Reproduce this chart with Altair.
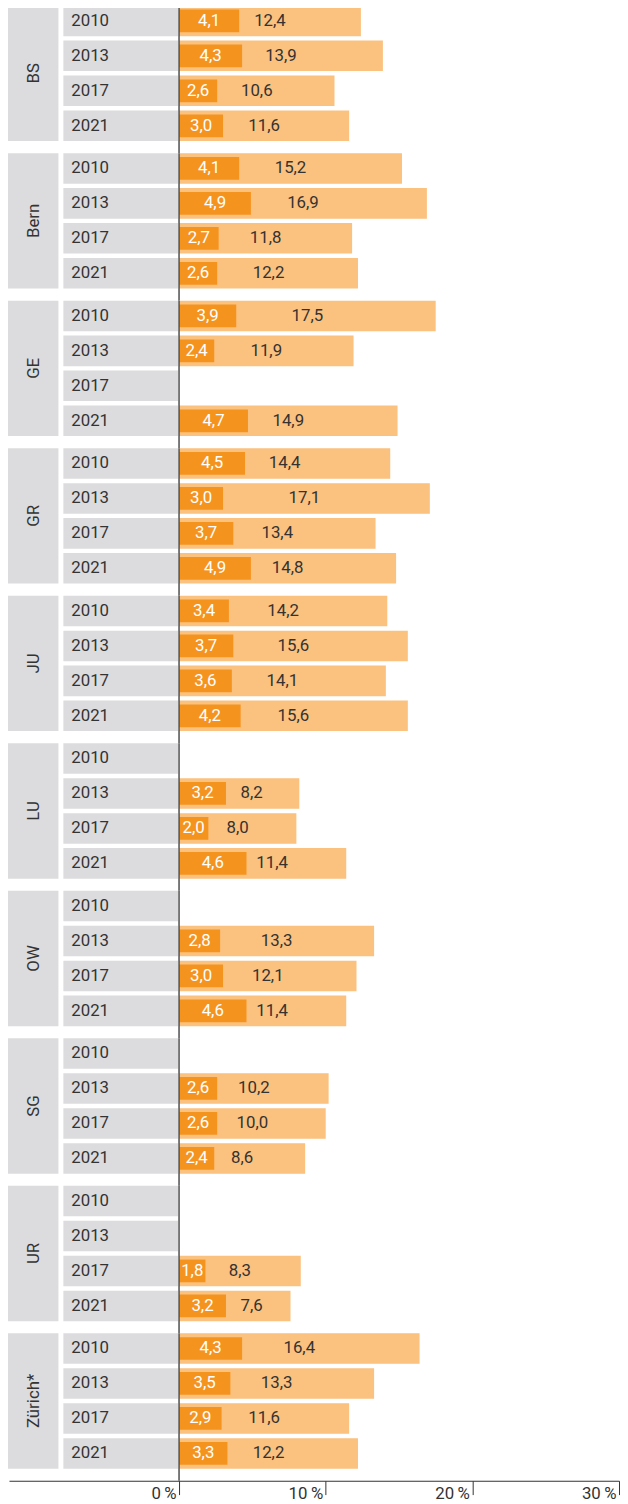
import altair as alt
import pandas as pd

regions = ["BS", "Bern", "GE", "GR", "JU", "LU", "OW", "SG", "UR", "Zürich*"]
years = ["2010", "2013", "2017", "2021"]

dark_values = [
    [4.1, 4.3, 2.6, 3.0],
    [4.1, 4.9, 2.7, 2.6],
    [3.9, 2.4, None, 4.7],
    [4.5, 3.0, 3.7, 4.9],
    [3.4, 3.7, 3.6, 4.2],
    [None, 3.2, 2.0, 4.6],
    [None, 2.8, 3.0, 4.6],
    [None, 2.6, 2.6, 2.4],
    [None, None, 1.8, 3.2],
    [4.3, 3.5, 2.9, 3.3],
]
total_values = [
    [12.4, 13.9, 10.6, 11.6],
    [15.2, 16.9, 11.8, 12.2],
    [17.5, 11.9, None, 14.9],
    [14.4, 17.1, 13.4, 14.8],
    [14.2, 15.6, 14.1, 15.6],
    [None, 8.2, 8.0, 11.4],
    [None, 13.3, 12.1, 11.4],
    [None, 10.2, 10.0, 8.6],
    [None, None, 8.3, 7.6],
    [16.4, 13.3, 11.6, 12.2],
]
tick_values = [0, 10, 20, 30]


def fmt(v):
    return "" if v is None else f"{v:.1f}".replace(".", ",")


rows = []
for reg, dv, tv in zip(regions, dark_values, total_values):
    for yr, d, t in zip(years, dv, tv):
        rows.append(dict(region=reg, year=yr, dark=d, light=t,
                         dark_lbl=fmt(d), light_lbl=fmt(t)))
df = pd.DataFrame(rows)

FONT = "Roboto"
FS = 17
TXT = "#333333"
GREY = "#dcdcde"
LIGHT = "#fbc17e"
DARK = "#f5931f"

K = 445 / 30
XMIN = -172 / K
H = 137
SP = 12.2

xscale = alt.Scale(domain=[XMIN, 30], nice=False, zero=False)
xaxis = alt.Axis(values=tick_values, grid=False, domainColor="#333333", tickColor="#333333",
                 tickSize=14, offset=12, labelAlign="right", labelBaseline="top",
                 labelPadding=-9, labelOffset=-3, labelFont=FONT, labelFontSize=FS,
                 labelColor=TXT, labelExpr="datum.value + '\u2009%'", domainWidth=1.2)


def X(field):
    return alt.X(field, type="quantitative", scale=xscale, axis=xaxis, title=None)


yband = alt.Y("year:O", sort=years,
              scale=alt.Scale(paddingInner=0.127, paddingOuter=0), axis=None, title=None)

first = "datum.year == '2010'"

region_box = alt.Chart().transform_filter(first).mark_rect(color=GREY).encode(
    x=alt.value(-1), x2=alt.value(50), y=alt.value(0), y2=alt.value(H))
region_text = alt.Chart().transform_filter(first).mark_text(
    angle=270, font=FONT, fontSize=FS, color=TXT, baseline="middle", align="center"
).encode(x=alt.value(25), y=alt.value(H / 2), text="region:N")
year_box = alt.Chart().mark_rect(color=GREY).encode(
    x=alt.value(55), x2=alt.value(171), y=yband)
year_text = alt.Chart().mark_text(
    align="left", baseline="middle", font=FONT, fontSize=FS, color=TXT
).encode(x=alt.value(63), y=yband, text="year:N")
light_bar = alt.Chart().transform_filter("isValid(datum.light)").mark_bar(color=LIGHT).encode(
    x=X("light"), x2=alt.X2(datum=0), y=yband)
dark_bar = alt.Chart().transform_filter("isValid(datum.dark)").mark_bar(color=DARK, size=23).encode(
    x=X("dark"), x2=alt.X2(datum=0), y=yband)
zero_rule = alt.Chart().transform_filter(first).mark_rule(color="#4d4d4d", strokeWidth=1.5).encode(
    x=alt.X(datum=0, type="quantitative", scale=xscale, axis=xaxis, title=None),
    y=alt.value(0), y2=alt.value(H + SP))
dark_text = alt.Chart().transform_filter("isValid(datum.dark)").transform_calculate(
    dx="datum.dark / 2").mark_text(
    align="center", baseline="middle", font=FONT, fontSize=FS, color="white"
).encode(x=X("dx"), y=yband, text="dark_lbl:N")
light_text = alt.Chart().transform_filter("isValid(datum.light)").transform_calculate(
    lx="max(datum.light / 2, datum.dark + 1.75)").mark_text(
    align="center", baseline="middle", font=FONT, fontSize=FS, color=TXT
).encode(x=X("lx"), y=yband, text="light_lbl:N")

layer = alt.layer(region_box, region_text, year_box, year_text, light_bar, dark_bar,
                  zero_rule, dark_text, light_text, data=df).properties(width=617, height=H)

chart = layer.facet(
    row=alt.Row("region:N", sort=regions, header=alt.Header(labels=False, title=None), title=None),
    spacing=SP, bounds="flush",
).properties(padding={"left": 0, "top": -12, "right": 0, "bottom": 0}).configure_view(stroke=None)

chart.save("out.html", embed_options={"renderer": "svg", "actions": False})
